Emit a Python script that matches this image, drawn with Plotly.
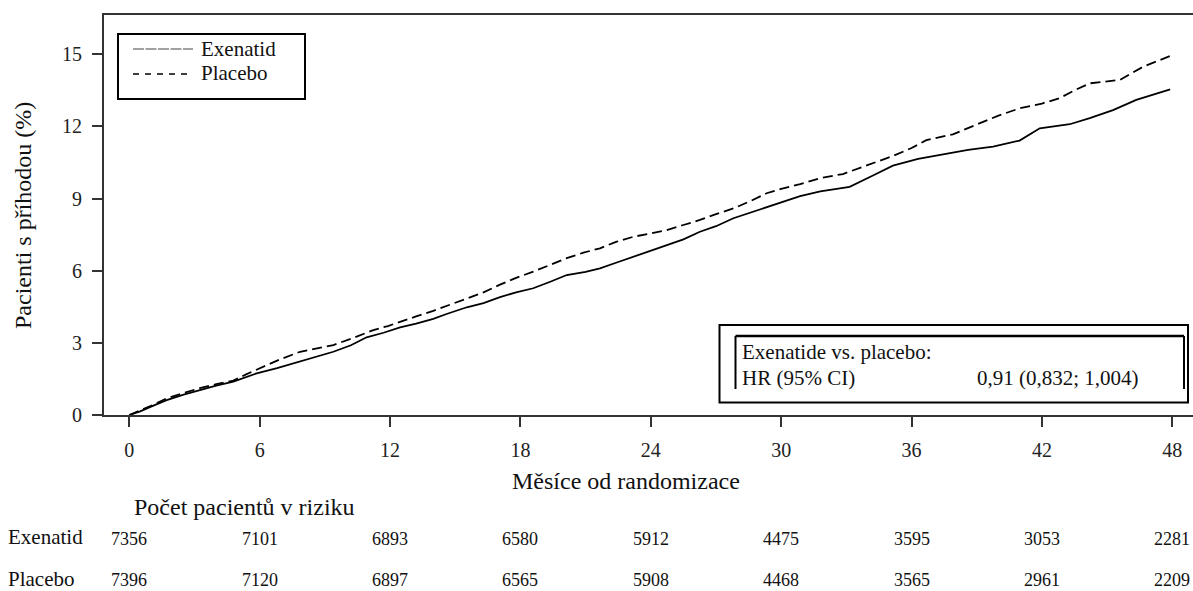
import plotly.graph_objects as go

# ---------------- data ----------------
exen_months = [0, 0.5, 1.0, 1.72, 2.5, 3.25, 4.0, 4.79, 5.86, 6.8, 7.86, 8.6, 9.39, 10.2, 10.92,
               11.7, 12.46, 13.2, 13.99, 14.6, 15.53, 16.3, 17.06, 17.8, 18.59, 19.4, 20.13, 21.0,
               21.66, 22.4, 23.19, 24.0, 24.73, 25.5, 26.26, 27.0, 27.8, 28.6, 29.33, 30.0, 30.87,
               31.8, 33.15, 34.2, 35.14, 36.3, 37.45, 38.6, 39.75, 40.97, 41.9, 43.28, 44.2, 45.27,
               46.34, 47.2, 47.9]
exen_pct = [0, 0.15, 0.35, 0.62, 0.85, 1.04, 1.22, 1.39, 1.73, 1.95, 2.22, 2.42, 2.63, 2.9, 3.23,
            3.42, 3.64, 3.8, 4.0, 4.2, 4.48, 4.65, 4.9, 5.1, 5.27, 5.55, 5.82, 5.95,
            6.1, 6.33, 6.58, 6.82, 7.07, 7.3, 7.62, 7.85, 8.18, 8.42, 8.66, 8.85, 9.1,
            9.3, 9.49, 9.95, 10.37, 10.65, 10.85, 11.02, 11.16, 11.41, 11.92, 12.09, 12.34, 12.68,
            13.1, 13.35, 13.54]

plac_months = [0, 0.5, 1.0, 1.72, 2.5, 3.25, 4.0, 4.79, 5.4, 6.01, 6.9, 7.86, 8.6, 9.39, 10.3,
               11.23, 11.9, 12.46, 13.2, 13.99, 14.8, 15.53, 16.3, 17.06, 17.8, 18.59, 19.4, 20.13,
               20.9, 21.66, 22.4, 23.19, 24.0, 24.73, 25.5, 26.26, 27.0, 27.8, 28.6, 29.33, 30.0,
               30.87, 31.8, 32.84, 34.0, 35.14, 36.0, 36.68, 37.9, 39.13, 40.0, 40.97, 42.0, 42.8,
               43.5, 44.2, 45.58, 46.65, 47.3, 47.9]
plac_pct = [0, 0.18, 0.38, 0.69, 0.9, 1.12, 1.28, 1.43, 1.7, 1.94, 2.3, 2.63, 2.78, 2.91, 3.2,
            3.53, 3.7, 3.86, 4.1, 4.33, 4.6, 4.85, 5.1, 5.42, 5.7, 5.96, 6.25, 6.52,
            6.75, 6.93, 7.2, 7.41, 7.55, 7.69, 7.9, 8.11, 8.35, 8.59, 8.9, 9.22, 9.4,
            9.6, 9.85, 10.02, 10.4, 10.77, 11.1, 11.43, 11.67, 12.13, 12.45, 12.75, 12.95, 13.17,
            13.5, 13.79, 13.93, 14.48, 14.7, 14.93]

x_ticks = [0, 6, 12, 18, 24, 30, 36, 42, 48]
y_ticks = [0, 3, 6, 9, 12, 15]

risk_months = [0, 6, 12, 18, 24, 30, 36, 42, 48]
risk_exen = [7356, 7101, 6893, 6580, 5912, 4475, 3595, 3053, 2281]
risk_plac = [7396, 7120, 6897, 6565, 5908, 4468, 3565, 2961, 2209]

series_names = ["Exenatid", "Placebo"]
y_title = "Pacienti s příhodou (%)"
x_title = "Měsíce od randomizace"
risk_title = "Počet pacientů v riziku"
hr_line1 = "Exenatide vs. placebo:"
hr_label = "HR (95% CI)"
hr_value = "0,91 (0,832; 1,004)"

# ---------------- layout geometry ----------------
W, H = 1193, 591
L, R, T, B = 104, 0, 15, 176
PW, PH = W - L - R, H - T - B

FONT = "Liberation Serif, Times New Roman, serif"
INK = "#111111"


def px(x):
    return (x - L) / PW


def py(y):
    return (H - B - y) / PH


fig = go.Figure()
fig.add_trace(go.Scatter(x=exen_months, y=exen_pct, mode="lines", name=series_names[0],
                         line=dict(color="black", width=1.8), showlegend=False))
fig.add_trace(go.Scatter(x=plac_months, y=plac_pct, mode="lines", name=series_names[1],
                         line=dict(color="black", width=1.8, dash="10px,5px"), showlegend=False))

shapes = []
# legend box
shapes.append(dict(type="rect", xref="paper", yref="paper", x0=px(118), x1=px(305), y0=py(34), y1=py(99),
                   line=dict(color="black", width=2)))
shapes.append(dict(type="line", xref="paper", yref="paper", x0=px(133), x1=px(193), y0=py(49), y1=py(49),
                   line=dict(color="#444444", width=1.2, dash="11px,1.5px")))
shapes.append(dict(type="line", xref="paper", yref="paper", x0=px(133), x1=px(191), y0=py(74), y1=py(74),
                   line=dict(color="black", width=1.5, dash="6px,6px")))
# HR box (outer)
shapes.append(dict(type="rect", xref="paper", yref="paper", x0=px(719.5), x1=px(1188), y0=py(325), y1=py(402.5),
                   line=dict(color="black", width=2)))
# HR inner open box
shapes.append(dict(type="line", xref="paper", yref="paper", x0=px(735.5), x1=px(1184), y0=py(336), y1=py(336),
                   line=dict(color="black", width=2.5)))
shapes.append(dict(type="line", xref="paper", yref="paper", x0=px(735.5), x1=px(735.5), y0=py(336), y1=py(389),
                   line=dict(color="black", width=2)))
shapes.append(dict(type="line", xref="paper", yref="paper", x0=px(1184), x1=px(1184), y0=py(336), y1=py(389),
                   line=dict(color="black", width=2)))

ann = []
ann.append(dict(text=series_names[0], x=px(199), y=py(49), xref="paper", yref="paper", xanchor="left",
                yanchor="middle", showarrow=False, font=dict(family=FONT, size=21, color=INK)))
ann.append(dict(text=series_names[1], x=px(199), y=py(73), xref="paper", yref="paper", xanchor="left",
                yanchor="middle", showarrow=False, font=dict(family=FONT, size=21, color=INK)))
ann.append(dict(text=hr_line1, x=px(740), y=py(352), xref="paper", yref="paper", xanchor="left",
                yanchor="middle", showarrow=False, font=dict(family=FONT, size=21, color=INK)))
ann.append(dict(text=hr_label, x=px(740), y=py(378), xref="paper", yref="paper", xanchor="left",
                yanchor="middle", showarrow=False, font=dict(family=FONT, size=21, color=INK)))
ann.append(dict(text=hr_value, x=px(975), y=py(378), xref="paper", yref="paper", xanchor="left",
                yanchor="middle", showarrow=False, font=dict(family=FONT, size=21, color=INK)))
# axis titles
ann.append(dict(text=y_title, x=px(23), y=py(216), xref="paper", yref="paper", xanchor="center",
                yanchor="middle", textangle=-90, showarrow=False, font=dict(family=FONT, size=24, color=INK)))
ann.append(dict(text=x_title, x=px(510), y=py(481), xref="paper", yref="paper", xanchor="left",
                yanchor="middle", showarrow=False, font=dict(family=FONT, size=24, color=INK)))
# risk table
ann.append(dict(text=risk_title, x=px(132), y=py(507), xref="paper", yref="paper", xanchor="left",
                yanchor="middle", showarrow=False, font=dict(family=FONT, size=24, color=INK)))
ann.append(dict(text=series_names[0], x=px(6), y=py(537), xref="paper", yref="paper", xanchor="left",
                yanchor="middle", showarrow=False, font=dict(family=FONT, size=21, color=INK)))
ann.append(dict(text=series_names[1], x=px(6), y=py(579), xref="paper", yref="paper", xanchor="left",
                yanchor="middle", showarrow=False, font=dict(family=FONT, size=21, color=INK)))
for m, ve, vp in zip(risk_months, risk_exen, risk_plac):
    ann.append(dict(text=str(ve), x=m, y=py(539), xref="x", yref="paper", xanchor="center",
                    yanchor="middle", showarrow=False, font=dict(family=FONT, size=18, color=INK)))
    ann.append(dict(text=str(vp), x=m, y=py(580), xref="x", yref="paper", xanchor="center",
                    yanchor="middle", showarrow=False, font=dict(family=FONT, size=18, color=INK)))

xr0 = -25.3 / 21.73
xr1 = xr0 + PW / 21.73
fig.update_layout(
    width=W, height=H,
    margin=dict(l=L, r=R, t=T, b=B, pad=0),
    paper_bgcolor="white", plot_bgcolor="white",
    font=dict(family=FONT, size=20, color=INK),
    shapes=shapes, annotations=ann, showlegend=False,
    xaxis=dict(range=[xr0, xr1], tickvals=x_ticks, ticktext=[str(v) for v in x_ticks],
               showgrid=False, zeroline=False, showline=True, linecolor="#333333", linewidth=2,
               mirror=True, ticks="outside", ticklen=10, tickwidth=1.5, tickcolor="#333333",
               tickfont=dict(family=FONT, size=20, color="#222222"), ticklabelstandoff=6),
    yaxis=dict(range=[0, PH / 24.05], tickvals=y_ticks, ticktext=[str(v) for v in y_ticks],
               showgrid=False, zeroline=False, showline=True, linecolor="#333333", linewidth=2,
               ticks="outside", ticklen=10, tickwidth=1.5, tickcolor="#333333",
               tickfont=dict(family=FONT, size=20, color="#222222"), ticklabelstandoff=6),
)

fig.write_html("out.html", config={"displayModeBar": False},
               post_script="document.body.style.margin='0';document.body.style.padding='0';"
                           "document.body.style.overflow='hidden';")
